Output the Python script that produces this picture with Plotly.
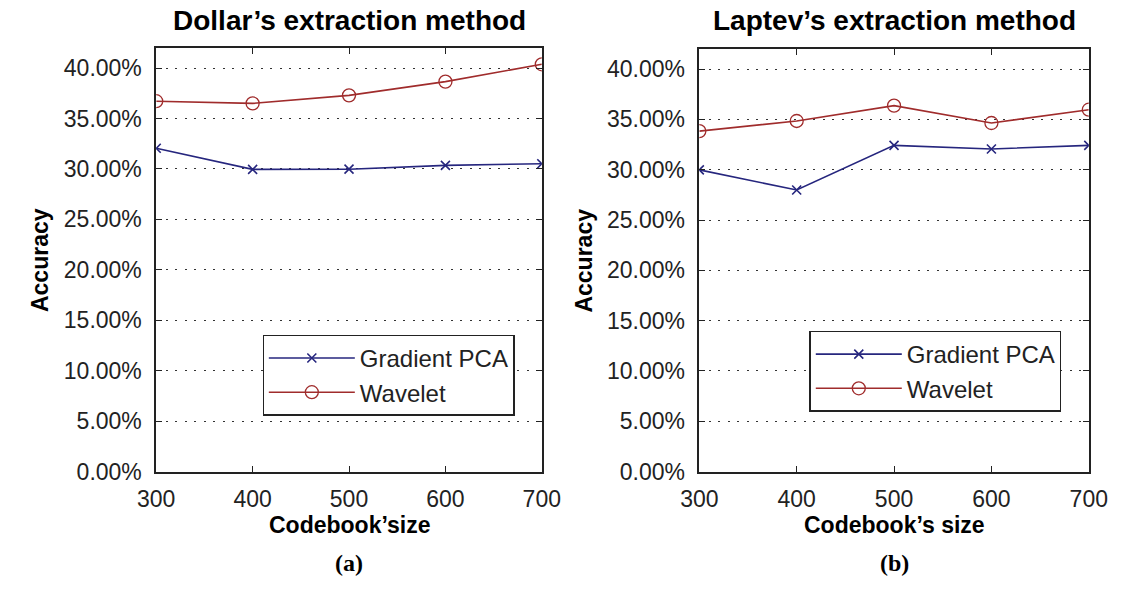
import plotly.graph_objects as go

# ---------------- data ----------------
codebook_sizes = [300, 400, 500, 600, 700]
dollar_gradient_pca = [0.3205, 0.2996, 0.2998, 0.3036, 0.3052]
dollar_wavelet = [0.3672, 0.3650, 0.3730, 0.3866, 0.4038]
laptev_gradient_pca = [0.2998, 0.2798, 0.3242, 0.3206, 0.3242]
laptev_wavelet = [0.3383, 0.3484, 0.3636, 0.3464, 0.3596]
y_tick_values = [0.0, 0.05, 0.10, 0.15, 0.20, 0.25, 0.30, 0.35, 0.40]
series_names = ["Gradient PCA", "Wavelet"]
panel_titles = ["Dollar\u2019s extraction method", "Laptev\u2019s extraction method"]
x_titles = ["Codebook\u2019size", "Codebook\u2019s size"]
y_title = "Accuracy"
panel_labels = ["(a)", "(b)"]

W, H = 1130, 602
BLUE = "#26267e"
RED = "#a02c2c"
INK = "#222222"
TICK_FONT = dict(family="Liberation Sans, Arial, sans-serif", size=23, color=INK)
BOLD_FONT = "Liberation Sans Narrow, Liberation Sans, Arial, sans-serif"


def px_x(v):
    return v / W


def px_y(v):
    return 1 - v / H


panels = [
    dict(x0=142, x1=541, y0=49, y1=482, gp=dollar_gradient_pca, wv=dollar_wavelet,
         leg_x=252, leg_y=342, ylab_x=22),
    dict(x0=704, x1=1107, y0=50, y1=482, gp=laptev_gradient_pca, wv=laptev_wavelet,
         leg_x=818, leg_y=338, ylab_x=585),
]

fig = go.Figure()
annotations = []
layout_axes = {}

for i, p in enumerate(panels):
    sfx = "" if i == 0 else str(i + 1)
    xa, ya = "x" + sfx, "y" + sfx
    leg = "legend" + sfx
    fig.add_trace(go.Scatter(
        x=codebook_sizes, y=p["gp"], name=series_names[0], mode="lines+markers",
        line=dict(color=BLUE, width=1.6),
        marker=dict(symbol="x-thin-open", size=9, line=dict(color=BLUE, width=1.6)),
        xaxis=xa, yaxis=ya, legend=leg,
    ))
    fig.add_trace(go.Scatter(
        x=codebook_sizes, y=p["wv"], name=series_names[1], mode="lines+markers",
        line=dict(color=RED, width=1.6),
        marker=dict(symbol="circle-open", size=13, color=RED, line=dict(color=RED, width=1.3)),
        xaxis=xa, yaxis=ya, legend=leg,
    ))
    common = dict(showline=True, linecolor=INK, linewidth=1.6, mirror="ticks",
                  ticks="inside", ticklen=6, tickwidth=1.3, tickcolor=INK,
                  tickfont=TICK_FONT, zeroline=False)
    layout_axes["xaxis" + sfx] = dict(
        common, domain=[px_x(p["x0"]), px_x(p["x1"])], anchor=ya,
        range=[codebook_sizes[0], codebook_sizes[-1]], tickvals=codebook_sizes,
        showgrid=False, ticklabelstandoff=6,
    )
    layout_axes["yaxis" + sfx] = dict(
        common, domain=[px_y(p["y1"]), px_y(p["y0"])], anchor=xa,
        range=[0, 0.42], tickvals=y_tick_values, tickformat=".2%",
        showgrid=True, gridcolor="#333333", gridwidth=1.2, griddash="2px,7.5px",
        ticklabelstandoff=8,
    )
    layout_axes[leg] = dict(
        x=px_x(p["leg_x"]), y=px_y(p["leg_y"]), xanchor="left", yanchor="top",
        bgcolor="white", bordercolor=INK, borderwidth=1.3,
        font=dict(family="Liberation Sans, Arial, sans-serif", size=24, color=INK),
        itemwidth=86, tracegroupgap=0,
    )
    cx = (p["x0"] + p["x1"]) / 2
    annotations.append(dict(text="<b>%s</b>" % panel_titles[i], x=px_x(cx), y=px_y(21),
                            xref="paper", yref="paper", showarrow=False,
                            xanchor="center", yanchor="middle",
                            font=dict(family="Liberation Sans, Arial, sans-serif", size=28, color="black")))
    annotations.append(dict(text="<b>%s</b>" % x_titles[i], x=px_x(cx), y=px_y(537),
                            xref="paper", yref="paper", showarrow=False,
                            xanchor="center", yanchor="middle",
                            font=dict(family=BOLD_FONT, size=23, color="black")))
    annotations.append(dict(text="<b>%s</b>" % panel_labels[i], x=px_x(cx), y=px_y(575),
                            xref="paper", yref="paper", showarrow=False,
                            xanchor="center", yanchor="middle",
                            font=dict(family="Liberation Serif, Times New Roman, serif", size=24, color="black")))
    annotations.append(dict(text="<b>%s</b>" % y_title, x=px_x(p["ylab_x"]),
                            y=px_y((p["y0"] + p["y1"]) / 2),
                            xref="paper", yref="paper", showarrow=False, textangle=-90,
                            xanchor="center", yanchor="middle",
                            font=dict(family=BOLD_FONT, size=23, color="black")))

fig.update_layout(
    width=W, height=H, margin=dict(l=0, r=0, t=0, b=0),
    paper_bgcolor="white", plot_bgcolor="white",
    annotations=annotations, **layout_axes,
)

fig.write_html("out.html")
